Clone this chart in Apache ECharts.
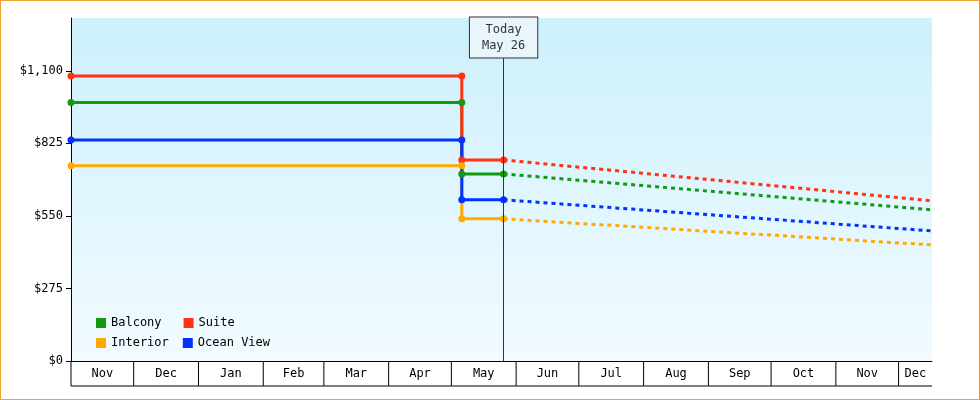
<!DOCTYPE html>
<html><head><meta charset="utf-8">
<script src="https://cdn.jsdelivr.net/npm/echarts@6/dist/echarts.min.js"></script>
<style>html,body{margin:0;padding:0;background:#fff}#c{width:978px;height:398px;border:1px solid #f0a030}</style>
</head><body><div id="c"></div>
<script>
const yTicks=[0,275,550,825,1100];
const today='2024-05-26';
const changeDate='2024-05-06';
const startDate='2023-11-01', endDate='2024-12-17';
const months=[['2023-11-01','Nov'],['2023-12-01','Dec'],['2024-01-01','Jan'],['2024-02-01','Feb'],['2024-03-01','Mar'],['2024-04-01','Apr'],['2024-05-01','May'],['2024-06-01','Jun'],['2024-07-01','Jul'],['2024-08-01','Aug'],['2024-09-01','Sep'],['2024-10-01','Oct'],['2024-11-01','Nov'],['2024-12-01','Dec']];
const names=['Balcony','Suite','Interior','Ocean View'];
const colors=['#119911','#ff3311','#ffaa00','#0033ff'];
const oldPrice=[980,1080,740,838];
const newPrice=[709,762,539,611];
const forecastEnd=[573,607,440,493];
const font='DejaVu Sans Mono';
const series=[];
names.forEach((n,i)=>{
  series.push({name:n,type:'line',color:colors[i],symbol:'circle',symbolSize:7,lineStyle:{width:3},
    data:[[startDate,oldPrice[i]],[changeDate,oldPrice[i]],[changeDate,newPrice[i]],[today,newPrice[i]]],z:3});
  series.push({name:n,type:'line',color:colors[i],symbol:'none',lineStyle:{width:3,type:[4,4]},
    data:[[today,newPrice[i]],[endDate,forecastEnd[i]]],z:2});
});
const mdata=months.map((m,i)=>[m[0], i+1<months.length?months[i+1][0]:endDate]);
series.push({type:'custom',clip:false,silent:true,data:mdata,encode:{x:[0,1]},
  renderItem:(p,api)=>{
    const s=+new Date(api.value(0)), e=+new Date(api.value(1));
    const a=api.coord([s,0]), b=api.coord([e,0]);
    const kids=[{type:'line',shape:{x1:a[0],y1:a[1],x2:a[0],y2:a[1]+25},style:{stroke:'#000',lineWidth:1}},
      {type:'line',shape:{x1:a[0],y1:a[1]+25,x2:b[0],y2:b[1]+25},style:{stroke:'#000',lineWidth:1}},
      {type:'text',style:{x:(a[0]+b[0])/2,y:a[1]+13,text:months[p.dataIndex][1],textAlign:'center',textVerticalAlign:'middle',fontFamily:font,fontSize:12,fill:'#000'}}];
    return {type:'group',children:kids};
  }});
series.push({type:'line',data:[],markLine:{symbol:'none',silent:true,lineStyle:{color:'#333',width:1,type:'solid'},
  label:{position:'start',formatter:'Today\nMay 26',fontFamily:font,fontSize:12,color:'#333',backgroundColor:'#e8f6fb',borderColor:'#333',borderWidth:1,padding:[4,12],lineHeight:16,distance:0},
  data:[[{coord:[today,1150]},{coord:[today,0]}]]}});
const chart=echarts.init(document.getElementById('c'));
chart.setOption({animation:false,
  grid:{left:70,right:47,top:17,bottom:38,show:true,borderWidth:0,
    backgroundColor:{type:'linear',x:0,y:0,x2:0,y2:1,colorStops:[{offset:0,color:'#ccf0fc'},{offset:1,color:'#f2fbff'}]}},
  legend:[{data:['Balcony','Suite'],left:90,top:311,itemWidth:10,itemHeight:10,icon:'rect',itemGap:22,textStyle:{fontFamily:font,fontSize:12,color:'#000'}},
          {data:['Interior','Ocean View'],left:90,top:331,itemWidth:10,itemHeight:10,icon:'rect',itemGap:14,textStyle:{fontFamily:font,fontSize:12,color:'#000'}}],
  xAxis:{type:'time',min:startDate,max:endDate,axisLabel:{show:false},axisTick:{show:false},splitLine:{show:false},axisLine:{lineStyle:{color:'#000'}}},
  yAxis:{type:'value',min:0,max:1300,splitLine:{show:false},axisLine:{show:true,lineStyle:{color:'#000'}},axisTick:{show:true,length:5,customValues:yTicks},
    axisLabel:{fontFamily:font,fontSize:12,color:'#000',customValues:yTicks,formatter:v=>'$'+v.toLocaleString('en-US')}},
  series});
</script></body></html>
